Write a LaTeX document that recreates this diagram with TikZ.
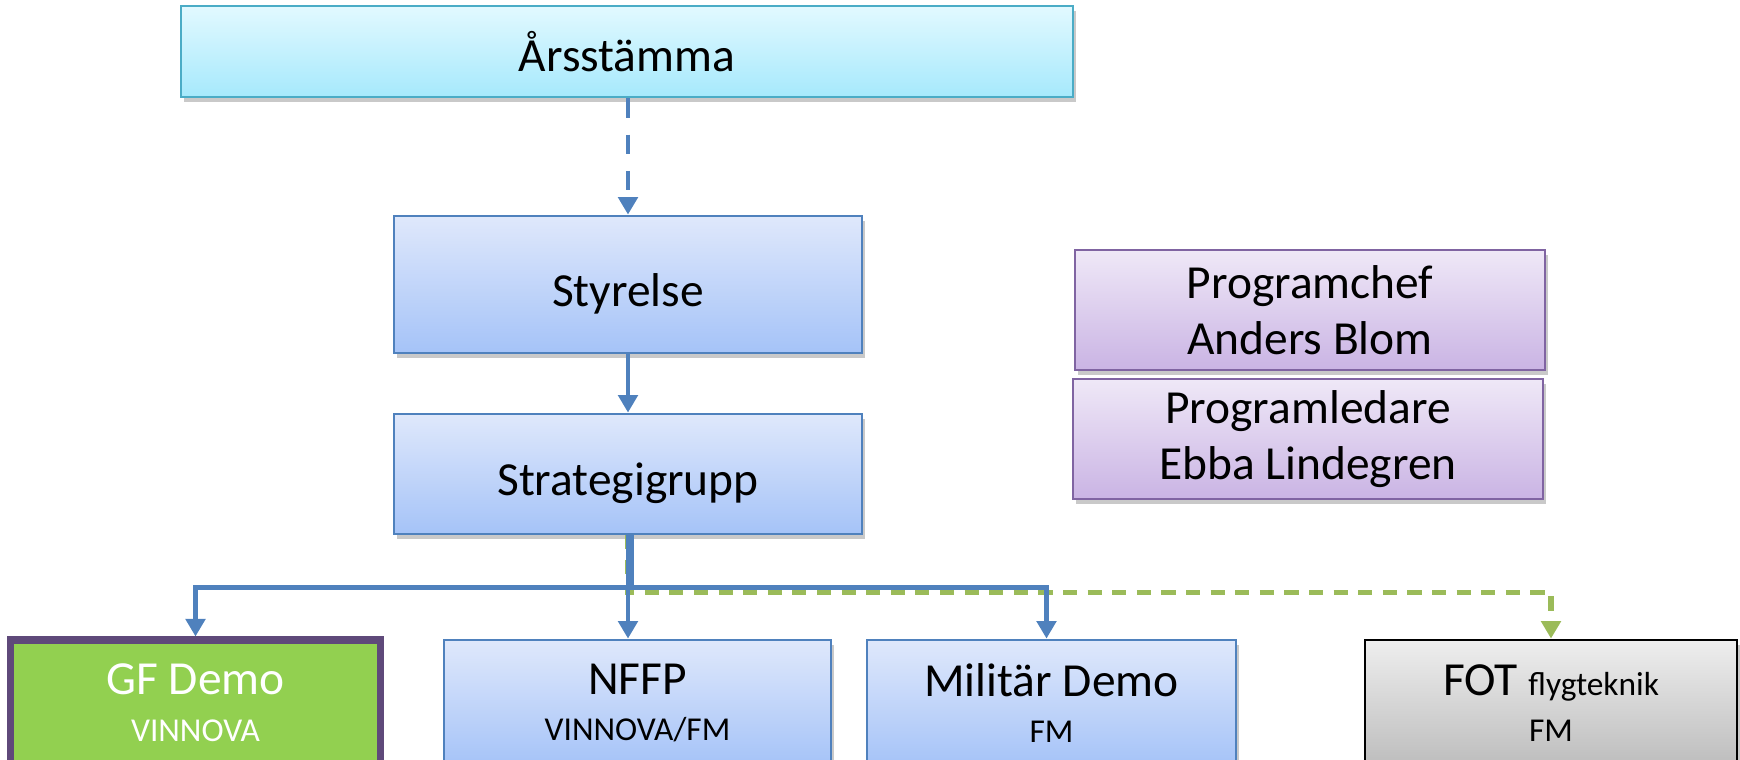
\documentclass[tikz,border=0pt]{standalone}
\usepackage{fontspec}
\setmainfont{Carlito}
\usetikzlibrary{arrows.meta,positioning,shadows}
\definecolor{arsline}{HTML}{4BACC6}
\definecolor{arstop}{HTML}{E2F9FF}
\definecolor{arsbot}{HTML}{A6E9FC}
\definecolor{blueline}{HTML}{4F81BD}
\definecolor{bluetop}{HTML}{DFE8FB}
\definecolor{bluebot}{HTML}{A5C3F8}
\definecolor{purpline}{HTML}{8064A2}
\definecolor{purptop}{HTML}{EFE8F7}
\definecolor{purpbot}{HTML}{CAB4E4}
\definecolor{gfgreen}{HTML}{92D050}
\definecolor{gfline}{HTML}{5F497A}
\definecolor{dashgreen}{HTML}{9BBB59}
\definecolor{greytop}{HTML}{EEEEEE}
\definecolor{greybot}{HTML}{BDBDBD}
\tikzstyle{arrow} = [line width=1.2pt, blueline, -{Triangle[width=5.5pt,length=5pt]}]
\newcommand{\sublabel}[1]{{\fontsize{9.5}{11}\selectfont #1}}

\begin{document}
\begin{tikzpicture}[
    font=\fontsize{13.5}{16}\selectfont,
    boxshadow/.style={drop shadow={shadow xshift=0.8pt, shadow yshift=-1.4pt, opacity=0.3, fill=black!70}},
    top/.style={rectangle, draw=arsline, line width=0.8pt, top color=arstop, bottom color=arsbot, minimum width=8.92cm, minimum height=0.91cm, boxshadow},
    level/.style={rectangle, draw=blueline, line width=0.8pt, top color=bluetop, bottom color=bluebot, align=center, boxshadow},
    person/.style={rectangle, draw=purpline, line width=0.8pt, top color=purptop, bottom color=purpbot, minimum width=4.7cm, minimum height=1.2cm, align=center, inner sep=0pt, boxshadow},
    project/.style={rectangle, minimum width=3.7cm, minimum height=1.26cm, align=center, inner sep=0pt},
    greenarrow/.style={line width=1.5pt, dashgreen, dash pattern=on 4pt off 3pt, -{Triangle[width=5.5pt,length=5pt]}}
]
\useasboundingbox (0,0) rectangle (17.4,-7.6);

% Ledning (mitten)
\node[top] (ars) at (6.27,-0.515) {Årsstämma};
\node[level, minimum width=4.68cm, minimum height=1.37cm] (sty) at (6.28,-2.845) {\rule{0pt}{14.5pt}Styrelse};
\node[level, minimum width=4.68cm, minimum height=1.2cm] (strat) at (6.28,-4.74) {\rule{0pt}{14.5pt}Strategigrupp};

% Programchef och programledare
\node[person] (chef) at (13.10,-3.10) {Programchef\\Anders Blom};
\node[person] (ledare) at (13.08,-4.39) {Programledare\\Ebba Lindegren};

% Projekt (nedre raden)
\node[project, draw=gfline, line width=2pt, fill=gfgreen, text=white, boxshadow] (gf) at (1.955,-7.03) {GF Demo\\[-2.7pt]\sublabel{VINNOVA}};
\node[project, level, minimum width=3.87cm, minimum height=1.26cm, inner sep=0pt] (nffp) at (6.375,-7.03) {NFFP\\[-2.7pt]\sublabel{VINNOVA/FM}};
\node[project, level, minimum width=3.69cm, minimum height=1.26cm, inner sep=0pt] (mil) at (10.515,-7.03) {Militär Demo\\[-2.7pt]\sublabel{FM}};
\node[project, draw=black, line width=0.8pt, top color=greytop, bottom color=greybot, minimum width=3.72cm, boxshadow] (fot) at (15.51,-7.03) {FOT \sublabel{flygteknik}\\[-2.7pt]\sublabel{FM}};

% Pilar
\draw[arrow, line width=1.4pt, dash pattern=on 5.5pt off 4.8pt] (ars.south -| sty.north) -- (sty.north);
\draw[arrow] (sty) -- (strat);
\draw[greenarrow] (strat.south) -- ++(0,-0.57) -| (fot.north);
\draw[arrow] (strat.south) -- ++(0,-0.52) -| (gf.north);
\draw[arrow] (strat.south) -- (strat.south |- nffp.north);
\draw[arrow] ([xshift=0.04cm]strat.south) -- ++(0,-0.52) -| ([xshift=-0.05cm]mil.north);

\end{tikzpicture}
\end{document}
